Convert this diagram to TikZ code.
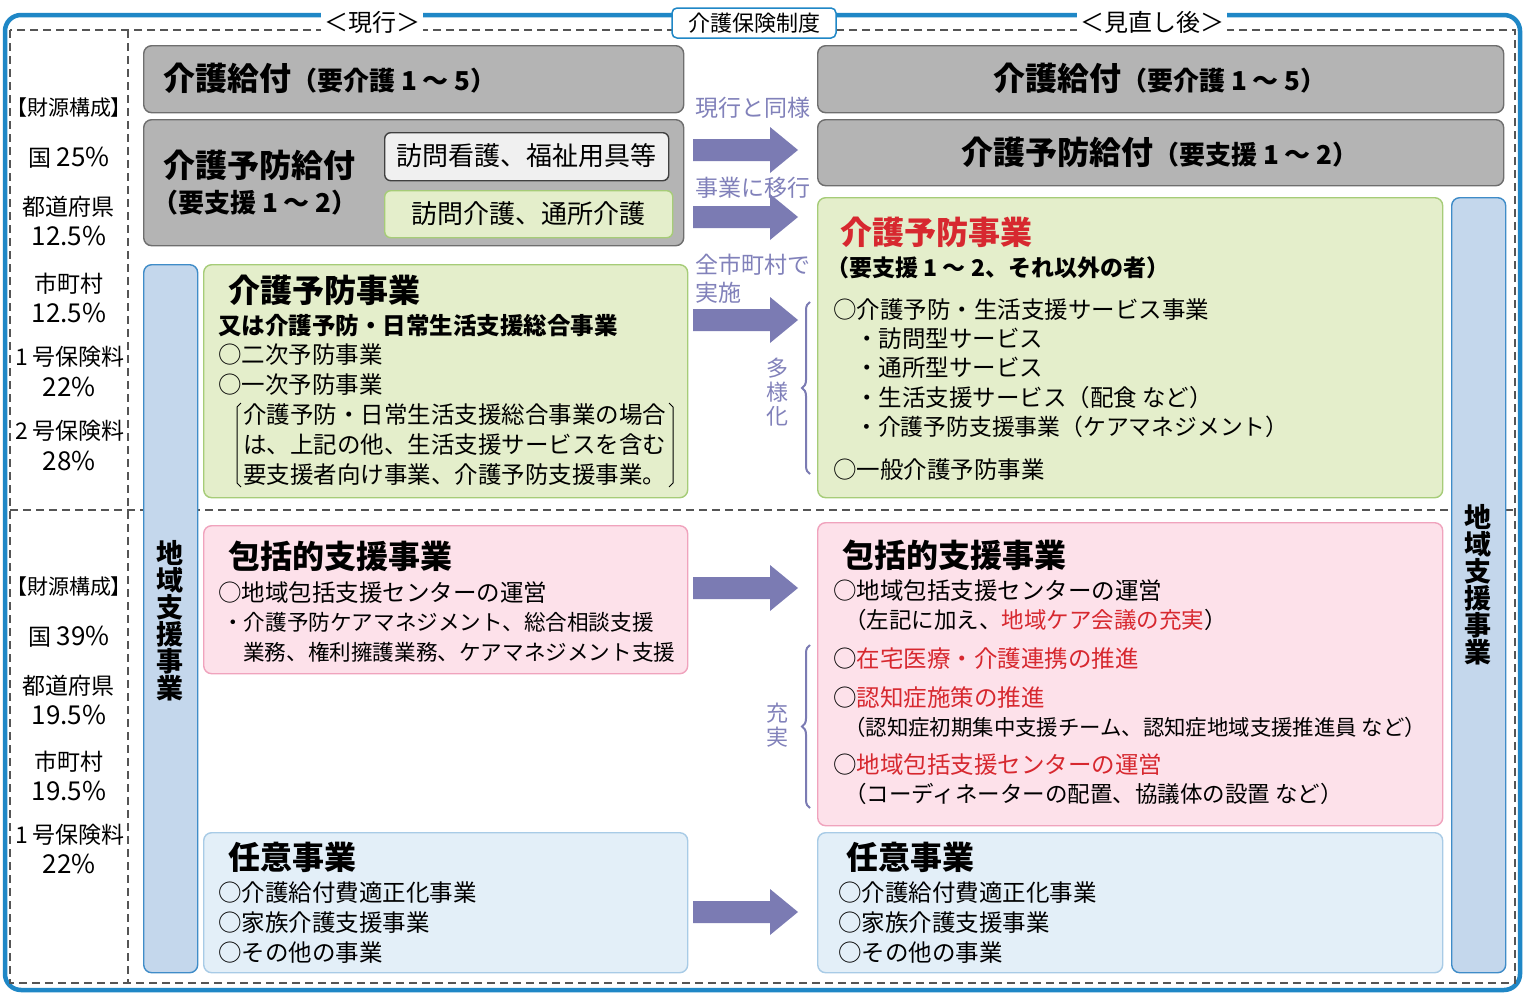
\documentclass[tikz,border=0pt]{standalone}
\usepackage{fontspec}
\setmainfont{Noto Sans CJK JP}
\usetikzlibrary{decorations.pathreplacing}
\definecolor{frameblue}{HTML}{1F87C6}
\definecolor{dashc}{HTML}{555555}
\definecolor{grayf}{HTML}{B4B4B4}
\definecolor{grayd}{HTML}{6E6E6E}
\definecolor{greenf}{HTML}{E4EECB}
\definecolor{greend}{HTML}{A6CC78}
\definecolor{pinkf}{HTML}{FDE1EA}
\definecolor{pinkd}{HTML}{F0A3BD}
\definecolor{lbluef}{HTML}{E3EFF8}
\definecolor{lblued}{HTML}{A8CBE6}
\definecolor{vbluef}{HTML}{C4D7EC}
\definecolor{vblued}{HTML}{3F8CC8}
\definecolor{arrowc}{HTML}{7B7BB3}
\definecolor{purpt}{HTML}{8181BA}
\definecolor{redt}{HTML}{D7282F}
\newcommand\fs[1]{\fontsize{#1}{#1}\selectfont}
\newcommand\rd[1]{\textcolor{redt}{#1}}
\begin{document}
\begin{tikzpicture}[x=1pt,y=-1pt,
  box/.style={rounded corners=8pt, line width=1.4pt, anchor=north west, inner sep=0pt},
  graybox/.style={box, fill=grayf, draw=grayd},
  greenbox/.style={box, fill=greenf, draw=greend},
  pinkbox/.style={box, fill=pinkf, draw=pinkd},
  lbluebox/.style={box, fill=lbluef, draw=lblued},
  vbluebox/.style={box, fill=vbluef, draw=vblued},
  t/.style={inner sep=0pt, anchor=west, font=\fs{23.5}},
  c/.style={inner sep=0pt, anchor=center, font=\fs{23}},
  cn/.style={inner sep=0pt, anchor=center, font=\fs{26}},
  ttl/.style={inner sep=0pt, anchor=west, font=\bfseries\fs{32}},
  pl/.style={inner sep=0pt, anchor=west, font=\fs{23}, text=purpt},
  toplab/.style={fill=white, inner xsep=3pt, inner ysep=0pt, minimum height=28pt, font=\fs{24}},
  dsh/.style={dashc, line width=1.3pt, dash pattern=on 8pt off 5pt},
  brc/.style={decorate, decoration={brace, amplitude=8pt}, draw=arrowc, line width=2pt}
]
\useasboundingbox (0,0) rectangle (1524,993);
\fill[white] (0,0) rectangle (1524,993);

% frames
\draw[frameblue, line width=4.5pt, rounded corners=16pt] (5,15) rectangle (1520,990);
\draw[dsh] (10,30) rectangle (1515,983);
\draw[dsh] (128,30) -- (128,983);
\draw[dsh] (10,510) -- (1515,510);

\node[toplab] (genko) at (372,22) {＜現行＞};
\node[toplab] (minaoshi) at (1152,22) {＜見直し後＞};
\node[draw=frameblue, line width=1.5pt, fill=white, rounded corners=5pt, minimum width=164pt, minimum height=30pt, inner sep=0pt, font=\fs{22}] (seido) at (754,23) {介護保険制度};

% left column
\node[c, font=\fs{21}] (zai1) at (69,108) {【財源構成】};
\node[c] (k1) at (69,158) {国 {\fs{26}25\%}};
\node[c] (t1) at (69,207) {都道府県};
\node[cn] (t1p) at (69,236) {12.5\%};
\node[c] (s1) at (69,284) {市町村};
\node[cn] (s1p) at (69,313) {12.5\%};
\node[c] (h1) at (70,357) {1 号保険料};
\node[cn] (h1p) at (69,387) {22\%};
\node[c] (h2) at (70,431) {2 号保険料};
\node[cn] (h2p) at (69,461) {28\%};

\node[c, font=\fs{21}] (zai2) at (69,587) {【財源構成】};
\node[c] (k2) at (69,637) {国 {\fs{26}39\%}};
\node[c] (t2) at (69,686) {都道府県};
\node[cn] (t2p) at (69,715) {19.5\%};
\node[c] (s2) at (69,762) {市町村};
\node[cn] (s2p) at (69,791) {19.5\%};
\node[c] (h3) at (70,835) {1 号保険料};
\node[cn] (h3p) at (69,864) {22\%};

% left boxes
\node[graybox, minimum width=540pt, minimum height=67pt] (kgL) at (143,45) {};
\node[t, font=\bfseries\fs{32}] (kgLt) at (163,78) {介護給付\fs{26}（要介護 1 ～ 5）};
\node[graybox, minimum width=540pt, minimum height=126pt] (kygL) at (143,119) {};
\node[ttl] (kygLt) at (163,165) {介護予防給付};
\node[t, font=\bfseries\fs{26}] (kygLs) at (152,203) {（要支援 1 ～ 2）};
\node[box, fill=white!94!black, draw=black!75, rounded corners=6pt, minimum width=284pt, minimum height=48pt] (kango) at (384,132) {};
\node[c, font=\fs{26}] (kangot) at (526,156) {訪問看護、福祉用具等};
\node[greenbox, rounded corners=6pt, minimum width=288pt, minimum height=47pt] (kaigo) at (384,190) {};
\node[c, font=\fs{26}] (kaigot) at (528,214) {訪問介護、通所介護};

\node[vbluebox, minimum width=54pt, minimum height=708pt] (chiikiL) at (143,264) {};
\node[inner sep=0pt, align=center, font=\bfseries\fs{27}] (chiikiLt) at (170,621) {地\\域\\支\\援\\事\\業};

\node[greenbox, minimum width=484pt, minimum height=233pt] (yoboL) at (203,264) {};
\node[ttl] (yoboLt) at (228,290) {介護予防事業};
\node[t, font=\bfseries\fs{23.5}] (yoboL1) at (218,326) {又は介護予防・日常生活支援総合事業};
\node[t] (yoboL2) at (218,355) {○二次予防事業};
\node[t] (yoboL3) at (218,385) {○一次予防事業};
\node[t] (yoboL4) at (243,415) {介護予防・日常生活支援総合事業の場合};
\node[t] (yoboL5) at (243,445) {は、上記の他、生活支援サービスを含む};
\node[t] (yoboL6) at (243,475) {要支援者向け事業、介護予防支援事業。};
\draw[line width=1pt] (241,403) -- (237,407) -- (237,483) -- (241,487);
\draw[line width=1pt] (669,403) -- (673,407) -- (673,483) -- (669,487);

\node[pinkbox, minimum width=484pt, minimum height=148pt] (hokL) at (203,525) {};
\node[ttl] (hokLt) at (228,556) {包括的支援事業};
\node[t] (hokL1) at (218,593) {○地域包括支援センターの運営};
\node[t, font=\fs{21.6}] (hokL2) at (222,622) {・介護予防ケアマネジメント、総合相談支援};
\node[t, font=\fs{21.6}] (hokL3) at (243,652) {業務、権利擁護業務、ケアマネジメント支援};

\node[lbluebox, minimum width=484pt, minimum height=140pt] (niniL) at (203,832) {};
\node[ttl] (niniLt) at (228,857) {任意事業};
\node[t] (niniL1) at (218,893) {○介護給付費適正化事業};
\node[t] (niniL2) at (218,923) {○家族介護支援事業};
\node[t] (niniL3) at (218,953) {○その他の事業};

% right boxes
\node[graybox, minimum width=686pt, minimum height=67pt] (kgR) at (817,45) {};
\node[inner sep=0pt, font=\bfseries\fs{32}] (kgRt) at (1160,78) {介護給付\fs{26}（要介護 1 ～ 5）};
\node[graybox, minimum width=686pt, minimum height=66pt] (kygR) at (817,119) {};
\node[inner sep=0pt, font=\bfseries\fs{32}] (kygRt) at (1160,152) {介護予防給付\fs{26}（要支援 1 ～ 2）};

\node[vbluebox, minimum width=54pt, minimum height=775pt] (chiikiR) at (1451,197) {};
\node[inner sep=0pt, align=center, font=\bfseries\fs{27}] (chiikiRt) at (1478,585) {地\\域\\支\\援\\事\\業};

\node[greenbox, minimum width=625pt, minimum height=300pt] (yoboR) at (817,197) {};
\node[ttl, text=redt] (yoboRt) at (840,232) {介護予防事業};
\node[t, font=\bfseries\fs{23}] (yoboR1) at (826,268) {（要支援 1 ～ 2、それ以外の者）};
\node[t] (yoboR2) at (833,310) {○介護予防・生活支援サービス事業};
\node[t] (yoboR3) at (855,339) {・訪問型サービス};
\node[t] (yoboR4) at (855,368) {・通所型サービス};
\node[t] (yoboR5) at (855,398) {・生活支援サービス（配食 など）};
\node[t, font=\fs{22.8}] (yoboR6) at (855,427) {・介護予防支援事業（ケアマネジメント）};
\node[t] (yoboR7) at (833,470) {○一般介護予防事業};

\node[pinkbox, minimum width=625pt, minimum height=303pt] (hokR) at (817,522) {};
\node[ttl] (hokRt) at (842,555) {包括的支援事業};
\node[t] (hokR1) at (833,591) {○地域包括支援センターの運営};
\node[t, font=\fs{22.5}] (hokR2) at (844,620) {（左記に加え、\rd{地域ケア会議の充実}）};
\node[t] (hokR3) at (833,659) {○\rd{在宅医療・介護連携の推進}};
\node[t] (hokR4) at (833,698) {○\rd{認知症施策の推進}};
\node[t, font=\fs{21.4}] (hokR5) at (844,727) {（認知症初期集中支援チーム、認知症地域支援推進員 など）};
\node[t] (hokR6) at (833,765) {○\rd{地域包括支援センターの運営}};
\node[t, font=\fs{22.5}] (hokR7) at (844,794) {（コーディネーターの配置、協議体の設置 など）};

\node[lbluebox, minimum width=625pt, minimum height=140pt] (niniR) at (817,832) {};
\node[ttl] (niniRt) at (846,857) {任意事業};
\node[t] (niniR1) at (838,893) {○介護給付費適正化事業};
\node[t] (niniR2) at (838,923) {○家族介護支援事業};
\node[t] (niniR3) at (838,953) {○その他の事業};

% block arrows
\foreach \yy/\nm in {150/a1,217/a2,320/a3,588/a4,912/a5}{
  \fill[arrowc] (693,\yy-11) -- (770,\yy-11) -- (770,\yy-23) -- (798,\yy) -- (770,\yy+23) -- (770,\yy+11) -- (693,\yy+11) -- cycle;
  \coordinate (\nm) at (745,\yy);
}

% purple labels
\node[pl] (lab1) at (695,108) {現行と同様};
\node[pl] (lab2) at (695,188) {事業に移行};
\node[pl] (lab3) at (695,265) {全市町村で};
\node[pl] (lab4) at (695,293) {実施};
\node[inner sep=0pt, align=center, font=\fs{22}, text=purpt] (tayo) at (777,392) {多\\[2pt]様\\[2pt]化};
\node[inner sep=0pt, align=center, font=\fs{22}, text=purpt] (juji) at (777,725) {充\\[2pt]実};

\coordinate (b1s) at (810,474);
\coordinate (b1e) at (810,302);
\coordinate (b2s) at (810,808);
\coordinate (b2e) at (810,645);
\draw[brc] (b1s) -- (b1e);
\draw[brc] (b2s) -- (b2e);
\end{tikzpicture}
\end{document}
